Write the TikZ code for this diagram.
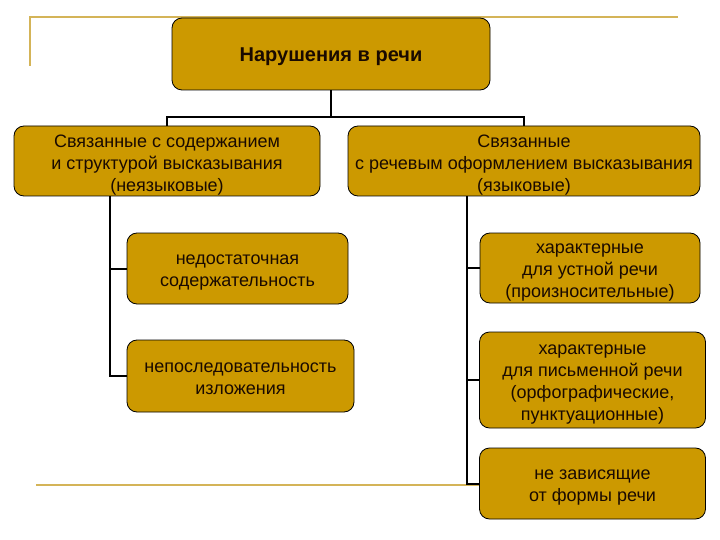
\documentclass[tikz,border=0pt]{standalone}
\usepackage{fontspec}
\setmainfont{Liberation Sans}
\begin{document}
\begin{tikzpicture}[x=1pt,y=-1pt,
  box/.style={draw=black,line width=0.8pt,fill=boxgold,rounded corners=10pt,inner sep=0pt},
  txt/.style={inner sep=0pt,align=center,text=textdark,font=\fontsize{18}{22}\selectfont},
  conn/.style={draw=black,line width=2pt},
  deco/.style={draw=decogold,line width=2pt}]
\definecolor{boxgold}{HTML}{CC9900}
\definecolor{decogold}{HTML}{D4B458}
\definecolor{textdark}{HTML}{1A0A00}
\useasboundingbox (0,0) rectangle (720,540);
% decorative lines
\coordinate (d1) at (30,66);
\coordinate (d2) at (30,17);
\coordinate (d3) at (678,17);
\coordinate (d4) at (36,485);
\draw[deco] (d1) -- (d2) -- (d3);
% boxes
\node[box,minimum width=318pt,minimum height=72pt] (top) at (331,54) {};
\node[box,minimum width=306pt,minimum height=70pt] (L1) at (167,161) {};
\node[box,minimum width=352pt,minimum height=70pt] (R1) at (524,161) {};
\node[box,minimum width=221pt,minimum height=71pt] (L2) at (237.5,268.5) {};
\node[box,minimum width=227pt,minimum height=72pt] (L3) at (240.5,376) {};
\node[box,minimum width=220pt,minimum height=70pt] (R2) at (590,268) {};
\node[box,minimum width=226pt,minimum height=96pt] (R3) at (592.5,380) {};
\node[box,minimum width=226pt,minimum height=71pt] (R4) at (592.5,483.5) {};
% texts
\node[txt,font=\bfseries\fontsize{20}{24}\selectfont] (topt) at ([yshift=-3pt]top.center) {Нарушения в речи};
\node[txt] (L1t) at ([yshift=-4pt]L1.center) {Связанные с содержанием\\и структурой высказывания\\(неязыковые)};
\node[txt] (R1t) at ([yshift=-4pt]R1.center) {Связанные\\с речевым оформлением высказывания\\(языковые)};
\node[txt] (L2t) at ([yshift=-4pt]L2.center) {недостаточная\\содержательность};
\node[txt] (L3t) at ([yshift=-3pt]L3.center) {непоследовательность\\изложения};
\node[txt] (R2t) at ([yshift=-5pt]R2.center) {характерные\\для устной речи\\(произносительные)};
\node[txt] (R3t) at ([yshift=-5pt]R3.center) {характерные\\для письменной речи\\(орфографические,\\пунктуационные)};
\node[txt] (R4t) at ([yshift=-4pt]R4.center) {не зависящие\\от формы речи};
\draw[deco] (d4) -- (d4 -| R4.west);
% connectors
\coordinate (hb) at (331,117);
\draw[conn] (top.south) -- (hb);
\draw[conn] (L1.north) |- (hb) -| (R1.north);
\coordinate (lt) at (110,196);
\coordinate (rt) at (467,196);
\draw[conn] (lt) |- (L3.west);
\draw[conn] (lt |- L2.west) -- (L2.west);
\draw[conn] (rt) |- (R4.west);
\draw[conn] (rt |- R2.west) -- (R2.west);
\draw[conn] (rt |- R3.west) -- (R3.west);
\end{tikzpicture}
\end{document}
